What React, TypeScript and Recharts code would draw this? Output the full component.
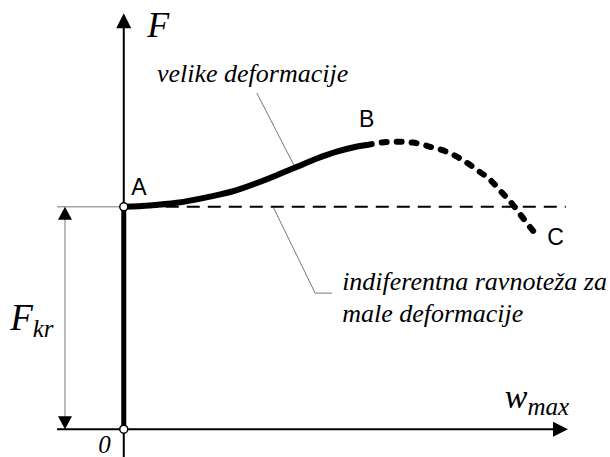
import React from 'react';
import { ComposedChart, Line, Scatter, XAxis, YAxis, ReferenceLine, ReferenceDot } from 'recharts';

// branch A -> B, large deformations (solid)
const stableBranch = [
  { x: 0, y: 1.0 },
  { x: 0.59, y: 1.006 },
  { x: 1.2, y: 1.018 },
  { x: 1.95, y: 1.046 },
  { x: 2.52, y: 1.073 },
  { x: 3.01, y: 1.107 },
  { x: 3.47, y: 1.143 },
  { x: 3.92, y: 1.18 },
  { x: 4.37, y: 1.217 },
  { x: 4.82, y: 1.248 },
  { x: 5.23, y: 1.269 },
  { x: 5.5, y: 1.278 },
];

// branch B -> C (dotted)
const descendingBranch = [
  { x: 5.5, y: 1.278 },
  { x: 5.84, y: 1.289 },
  { x: 6.18, y: 1.293 },
  { x: 6.54, y: 1.289 },
  { x: 6.93, y: 1.27 },
  { x: 7.31, y: 1.247 },
  { x: 7.67, y: 1.21 },
  { x: 7.99, y: 1.166 },
  { x: 8.29, y: 1.121 },
  { x: 8.56, y: 1.063 },
  { x: 8.81, y: 1.008 },
  { x: 9.03, y: 0.95 },
  { x: 9.3, y: 0.882 },
];

// straight (trivial) branch 0 -> A
const trivialBranch = [
  { x: 0, y: 0 },
  { x: 0, y: 1 },
];

const F_KR = 1;
const W_END = 10.05;
const F_END = 1.87;
const DIM_X = -1.33;
const EXT_X = -1.51;

const axisArrows = [
  { x: W_END, y: 0, dir: 'right' },
  { x: 0, y: F_END, dir: 'up' },
];
const dimArrows = [
  { x: DIM_X, y: F_KR, dir: 'up' },
  { x: DIM_X, y: 0, dir: 'down' },
];

const pointLabels = [
  { x: 0.17, y: 1.053, text: 'A' },
  { x: 5.32, y: 1.359, text: 'B' },
  { x: 9.58, y: 0.828, text: 'C' },
];

const notes = [
  { x: 0.75, y: 1.561, text: 'velike deformacije' },
  { x: 4.94, y: 0.626, text: 'indiferentna ravnoteža za' },
  { x: 4.94, y: 0.482, text: 'male deformacije' },
];

const serif = '"Liberation Serif", "Times New Roman", serif';
const sans = '"Liberation Sans", Arial, sans-serif';

const Arrow = (props: any) => {
  const { cx, cy, payload, size } = props;
  const L = size?.[0] ?? 15;
  const H = size?.[1] ?? 7.5;
  let pts = '';
  if (payload.dir === 'right') pts = `${cx},${cy} ${cx - L},${cy - H} ${cx - L},${cy + H}`;
  if (payload.dir === 'up') pts = `${cx},${cy} ${cx - H},${cy + L} ${cx + H},${cy + L}`;
  if (payload.dir === 'down') pts = `${cx},${cy} ${cx - H},${cy - L} ${cx + H},${cy - L}`;
  return <polygon points={pts} fill="#000" />;
};

const textShape = (text: string, family: string, size: number, italic: boolean, sub?: string, subSize?: number) =>
  (p: any) => (
    <text x={p.cx} y={p.cy} fontFamily={family} fontSize={size} fontStyle={italic ? 'italic' : 'normal'} fill="#000">
      {text}
      {sub ? <tspan dy={7} fontSize={subSize}>{sub}</tspan> : null}
    </text>
  );

export default function App() {
  return (
    <div style={{ position: 'absolute', left: 0, top: 0, background: '#fff' }}>
      <ComposedChart width={610} height={457} margin={{ top: 0, right: 0, bottom: 0, left: 0 }}>
        <XAxis type="number" dataKey="x" domain={[-2.8, 11]} hide />
        <YAxis type="number" dataKey="y" domain={[-0.125, 1.93]} hide />

        {/* axes */}
        <ReferenceLine segment={[{ x: EXT_X, y: 0 }, { x: W_END - 0.3, y: 0 }]} stroke="#000" strokeWidth={2} />
        <ReferenceLine segment={[{ x: 0, y: -0.125 }, { x: 0, y: F_END - 0.05 }]} stroke="#000" strokeWidth={2} />

        {/* F_kr dimension */}
        <ReferenceLine segment={[{ x: EXT_X, y: F_KR }, { x: 0, y: F_KR }]} stroke="#777" strokeWidth={1} />
        <ReferenceLine segment={[{ x: DIM_X, y: 0.05 }, { x: DIM_X, y: F_KR - 0.05 }]} stroke="#777" strokeWidth={1} />

        {/* leaders */}
        <ReferenceLine segment={[{ x: 3.01, y: 1.512 }, { x: 3.87, y: 1.179 }]} stroke="#777" strokeWidth={1} />
        <ReferenceLine segment={[{ x: 3.38, y: 0.999 }, { x: 4.33, y: 0.612 }]} stroke="#777" strokeWidth={1} />
        <ReferenceLine segment={[{ x: 4.33, y: 0.612 }, { x: 4.71, y: 0.612 }]} stroke="#777" strokeWidth={1} />

        {/* small-deflection equilibrium */}
        <ReferenceLine segment={[{ x: 0, y: F_KR }, { x: 10, y: F_KR }]} stroke="#000" strokeWidth={2} strokeDasharray="13 8" />

        <Line data={trivialBranch} dataKey="y" type="linear" stroke="#000" strokeWidth={5} dot={false} isAnimationActive={false} />
        <Line data={stableBranch} dataKey="y" type="monotone" stroke="#000" strokeWidth={6} dot={false} strokeLinecap="round" isAnimationActive={false} />
        <Line data={descendingBranch} dataKey="y" type="monotone" stroke="#000" strokeWidth={6} strokeDasharray="5 10" strokeLinecap="round" dot={false} isAnimationActive={false} />

        <Scatter data={axisArrows} dataKey="y" shape={(p: any) => <Arrow {...p} size={[15, 7.5]} />} isAnimationActive={false} />
        <Scatter data={dimArrows} dataKey="y" shape={(p: any) => <Arrow {...p} size={[13, 7]} />} isAnimationActive={false} />

        <ReferenceDot x={0} y={F_KR} r={4} fill="#fff" stroke="#000" strokeWidth={1.5} />
        <ReferenceDot x={0} y={0} r={4} fill="#fff" stroke="#000" strokeWidth={1.5} />

        {pointLabels.map((l) => (
          <ReferenceDot key={l.text} x={l.x} y={l.y} r={0} shape={textShape(l.text, sans, 23, false)} />
        ))}
        {notes.map((l) => (
          <ReferenceDot key={l.text} x={l.x} y={l.y} r={0} shape={textShape(l.text, serif, 26, true)} />
        ))}
        <ReferenceDot x={0.53} y={1.763} r={0} shape={textShape('F', serif, 36, true)} />
        <ReferenceDot x={-2.57} y={0.446} r={0} shape={textShape('F', serif, 37, true, 'kr', 25)} />
        <ReferenceDot x={8.62} y={0.095} r={0} shape={textShape('w', serif, 34, true, 'max', 25)} />
        <ReferenceDot x={-0.58} y={-0.107} r={0} shape={textShape('0', serif, 25, true)} />
      </ComposedChart>
    </div>
  );
}
